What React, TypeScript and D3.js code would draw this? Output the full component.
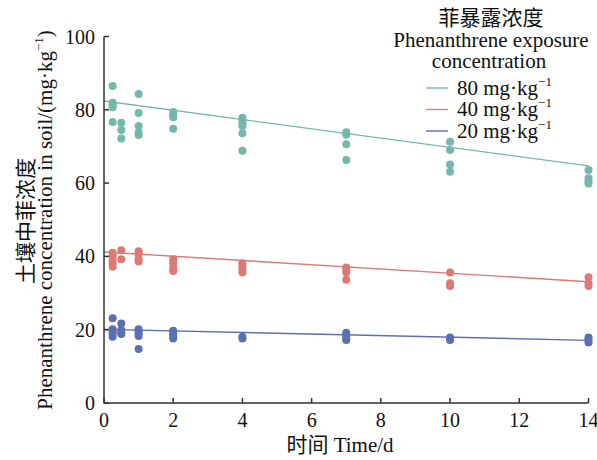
import React from "react";
import * as d3 from "d3";

const times = [0.25, 0.5, 1, 2, 4, 7, 10, 14];
const xTicks = [0, 2, 4, 6, 8, 10, 12, 14];
const yTicks = [0, 20, 40, 60, 80, 100];

// replicate measurements per sampling time
const conc80 = [
  [86.5, 81.9, 81.3, 80.7, 76.7],
  [76.5, 74.5, 72.2],
  [84.3, 79.1, 75.6, 73.8, 73.1],
  [79.4, 78.8, 78.0, 74.8],
  [77.8, 77.2, 76.3, 75.6, 73.6, 68.8],
  [73.9, 73.2, 70.6, 66.3],
  [71.3, 69.0, 65.1, 63.1],
  [63.6, 61.3, 60.6, 59.9],
];
const conc40 = [
  [41.0, 40.1, 39.0, 38.1, 37.2],
  [41.7, 39.2],
  [41.4, 40.7, 39.2, 38.6],
  [39.2, 38.1, 36.8, 36.0],
  [38.1, 37.2, 36.5, 35.6],
  [37.0, 36.3, 35.6, 33.6],
  [35.6, 32.7, 31.9],
  [34.3, 32.7, 31.9],
];
const conc20 = [
  [23.1, 20.1, 19.5, 18.8, 18.1],
  [21.7, 19.9, 19.2, 18.8],
  [20.1, 19.5, 18.8, 18.3, 14.7],
  [19.7, 19.0, 18.3, 17.6],
  [18.1, 17.6],
  [19.2, 18.5, 17.7, 17.2],
  [17.9, 17.2],
  [17.9, 17.2, 16.5],
];
// fitted trend lines: value at day 0 and day 14
const fit80 = [82.4, 64.7];
const fit40 = [41.2, 33.1];
const fit20 = [20.1, 17.1];

const seriesLabels = ["80", "40", "20"];
const colors = ["#74b8ab", "#dd7a75", "#5a70b2"];

const W = 597;
const H = 460;
const serif = "'Liberation Serif', 'Times New Roman', 'Noto Sans CJK SC', serif";

export default function App() {
  const x = d3.scaleLinear().domain([0, 14]).range([104, 588.5]);
  const y = d3.scaleLinear().domain([0, 100]).range([403, 36.5]);
  const line = d3
    .line<[number, number]>()
    .x((d) => x(d[0]))
    .y((d) => y(d[1]));

  const allSeries = [conc80, conc40, conc20];
  const fits = [fit80, fit40, fit20];
  const axisColor = "#333";

  return (
    <svg
      width={W}
      height={H}
      style={{ position: "absolute", left: 0, top: 0, background: "#fff" }}
      fontFamily={serif}
    >
      {/* points */}
      {allSeries.map((s, si) => (
        <g key={si} fill={colors[si]}>
          {s.map((vals, ti) =>
            vals.map((v, vi) => (
              <circle key={`${ti}-${vi}`} cx={x(times[ti])} cy={y(v)} r={4} />
            ))
          )}
        </g>
      ))}
      {/* trend lines */}
      {fits.map((f, si) => (
        <path
          key={si}
          d={line([
            [0, f[0]],
            [14, f[1]],
          ]) as string}
          stroke={colors[si]}
          strokeWidth={1.4}
          fill="none"
        />
      ))}
      {/* axes */}
      <g stroke={axisColor} strokeWidth={1.5} fill="none">
        <path d={`M${x(0)},${y(100)}V${y(0)}H${x(14)}`} />
        {yTicks.map((t) => (
          <path key={t} d={`M${x(0)},${y(t)}h5`} />
        ))}
        {xTicks.map((t) => (
          <path key={t} d={`M${x(t)},${y(0)}v-5`} />
        ))}
      </g>
      <g fontSize={20} fill="#111">
        {yTicks.map((t) => (
          <text key={t} x={x(0) - 9} y={y(t)} dy="0.35em" textAnchor="end">
            {t}
          </text>
        ))}
        {xTicks.map((t) => (
          <text key={t} x={x(t)} y={y(0) + 24} textAnchor="middle">
            {t}
          </text>
        ))}
      </g>
      {/* axis titles */}
      <text x={340} y={452} textAnchor="middle" fontSize={21} fill="#111">
        时间 Time/d
      </text>
      <g transform="translate(33,221) rotate(-90)">
        <text x={0} y={0} textAnchor="middle" fontSize={21} fill="#111">
          土壤中菲浓度
        </text>
      </g>
      <g transform="translate(52,220) rotate(-90)">
        <text x={0} y={0} textAnchor="middle" fontSize={21} fill="#111">
          Phenanthrene concentration in soil/(mg·kg
          <tspan fontSize={13} dy={-9}>
            −1
          </tspan>
          <tspan dy={9}>)</tspan>
        </text>
      </g>
      {/* legend */}
      <g fill="#111" fontSize={21}>
        <text x={491} y={25} textAnchor="middle">
          菲暴露浓度
        </text>
        <text x={491} y={47} textAnchor="middle">
          Phenanthrene exposure
        </text>
        <text x={489} y={68} textAnchor="middle">
          concentration
        </text>
        {seriesLabels.map((lab, i) => (
          <g key={lab} transform={`translate(0,${88 + i * 21.5})`}>
            <line x1={426} x2={448} y1={0} y2={0} stroke={colors[i]} strokeWidth={1.4} />
            <text x={457} y={0} dy="0.33em">
              {lab} mg·kg
              <tspan fontSize={13} dy={-9}>
                −1
              </tspan>
            </text>
          </g>
        ))}
      </g>
    </svg>
  );
}
